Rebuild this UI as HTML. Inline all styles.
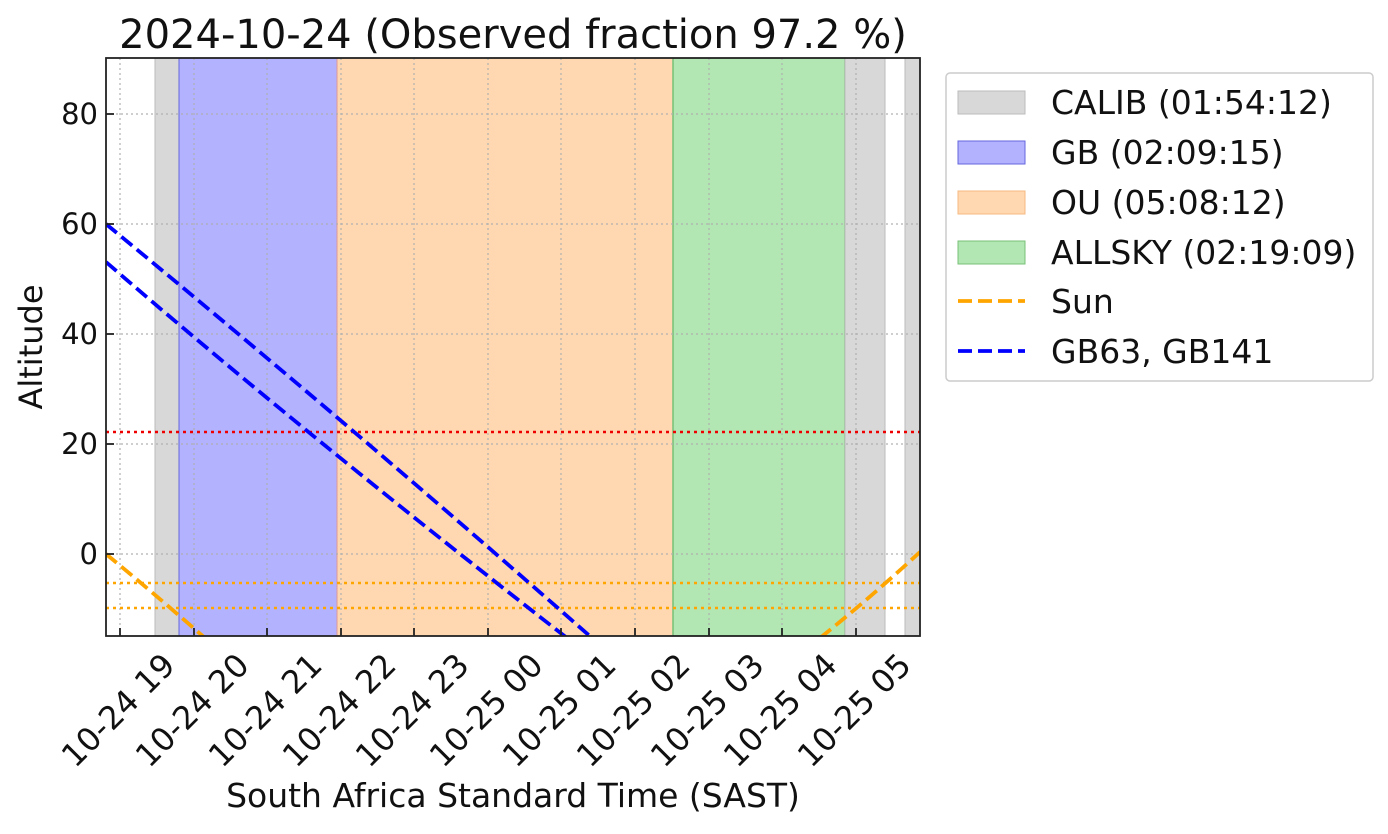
<!DOCTYPE html>
<html><head><style>body{margin:0;background:#fff}</style></head><body>
<svg width="1388" height="829" xmlns="http://www.w3.org/2000/svg" font-family="DejaVu Sans, Liberation Sans, sans-serif">
<defs><clipPath id="c"><rect x="106" y="58" width="814" height="578"/></clipPath></defs>
<g clip-path="url(#c)">
<rect x="155" y="58" width="24" height="578" fill="#d8d8d8" stroke="#bbb" stroke-width="1"/>
<rect x="179" y="58" width="158" height="578" fill="#b2b2ff" stroke="#6666dd" stroke-width="1"/>
<rect x="337" y="58" width="336" height="578" fill="#ffd8b2" stroke="#dd9999" stroke-width="1"/>
<rect x="673" y="58" width="172" height="578" fill="#b2e6b2" stroke="#77c077" stroke-width="1.5"/>
<rect x="845" y="58" width="40" height="578" fill="#d8d8d8" stroke="#bbb" stroke-width="1"/>
<rect x="905" y="58" width="20" height="578" fill="#d8d8d8" stroke="#bbb" stroke-width="1"/>
<g stroke="#b0b0b0" stroke-width="1.2" stroke-dasharray="2,3">
<line x1="120" y1="58" x2="120" y2="636"/><line x1="194" y1="58" x2="194" y2="636"/><line x1="267" y1="58" x2="267" y2="636"/><line x1="341" y1="58" x2="341" y2="636"/><line x1="414" y1="58" x2="414" y2="636"/><line x1="488" y1="58" x2="488" y2="636"/><line x1="561" y1="58" x2="561" y2="636"/><line x1="635" y1="58" x2="635" y2="636"/><line x1="709" y1="58" x2="709" y2="636"/><line x1="782" y1="58" x2="782" y2="636"/><line x1="856" y1="58" x2="856" y2="636"/>
<line x1="106" y1="114" x2="920" y2="114"/><line x1="106" y1="224" x2="920" y2="224"/><line x1="106" y1="334" x2="920" y2="334"/><line x1="106" y1="444" x2="920" y2="444"/><line x1="106" y1="554" x2="920" y2="554"/>
</g>
<g stroke-width="2.5" stroke-dasharray="3,4" fill="none">
<line x1="106" y1="432" x2="920" y2="432" stroke="#e00"/>
<line x1="106" y1="583" x2="920" y2="583" stroke="orange"/>
<line x1="106" y1="608" x2="920" y2="608" stroke="orange"/>
</g>
<g stroke-width="3.8" stroke-dasharray="14,6" fill="none">
<path d="M106,554 Q150,590 205,638" stroke="orange"/>
<path d="M820,638 Q870,598 920,552" stroke="orange"/>
<path d="M106,224 Q350,425 592,638" stroke="blue"/>
<path d="M106,262 Q300,430 567,638" stroke="blue"/>
</g>
</g>
<rect x="106" y="58" width="814" height="578" fill="none" stroke="#222" stroke-width="1.8"/>
<g stroke="#222" stroke-width="1.8">
<line x1="120" y1="636" x2="120" y2="628"/><line x1="194" y1="636" x2="194" y2="628"/><line x1="267" y1="636" x2="267" y2="628"/><line x1="341" y1="636" x2="341" y2="628"/><line x1="414" y1="636" x2="414" y2="628"/><line x1="488" y1="636" x2="488" y2="628"/><line x1="561" y1="636" x2="561" y2="628"/><line x1="635" y1="636" x2="635" y2="628"/><line x1="709" y1="636" x2="709" y2="628"/><line x1="782" y1="636" x2="782" y2="628"/><line x1="856" y1="636" x2="856" y2="628"/>
<line x1="106" y1="114" x2="114" y2="114"/><line x1="106" y1="224" x2="114" y2="224"/><line x1="106" y1="334" x2="114" y2="334"/><line x1="106" y1="444" x2="114" y2="444"/><line x1="106" y1="554" x2="114" y2="554"/>
</g>
<g font-size="29" text-anchor="end" fill="#111">
<text x="98" y="124">80</text><text x="98" y="234">60</text><text x="98" y="344">40</text><text x="98" y="454">20</text><text x="98" y="564">0</text>
</g>
<g font-size="32" text-anchor="middle" fill="#111">
<text transform="translate(126,718) rotate(-45)">10-24 19</text>
<text transform="translate(200,718) rotate(-45)">10-24 20</text>
<text transform="translate(273,718) rotate(-45)">10-24 21</text>
<text transform="translate(347,718) rotate(-45)">10-24 22</text>
<text transform="translate(420,718) rotate(-45)">10-24 23</text>
<text transform="translate(494,718) rotate(-45)">10-25 00</text>
<text transform="translate(567,718) rotate(-45)">10-25 01</text>
<text transform="translate(641,718) rotate(-45)">10-25 02</text>
<text transform="translate(715,718) rotate(-45)">10-25 03</text>
<text transform="translate(788,718) rotate(-45)">10-25 04</text>
<text transform="translate(862,718) rotate(-45)">10-25 05</text>
</g>
<text x="513" y="807" font-size="33" text-anchor="middle" fill="#111">South Africa Standard Time (SAST)</text>
<text transform="translate(42,347) rotate(-90)" font-size="32" text-anchor="middle" fill="#111">Altitude</text>
<text x="513" y="48" font-size="40" text-anchor="middle" fill="#111">2024-10-24 (Observed fraction 97.2 %)</text>
<rect x="946" y="73" width="427" height="308" rx="4" fill="#fff" stroke="#ccc" stroke-width="1.5"/>
<rect x="958" y="91" width="67" height="23" fill="#d8d8d8" stroke="#bbb"/>
<rect x="958" y="141" width="67" height="23" fill="#b2b2ff" stroke="#6666dd"/>
<rect x="958" y="191" width="67" height="23" fill="#ffd8b2" stroke="#f5b880"/>
<rect x="958" y="241" width="67" height="23" fill="#b2e6b2" stroke="#77c077"/>
<line x1="958" y1="301" x2="1025" y2="301" stroke="orange" stroke-width="3.8" stroke-dasharray="14,6"/>
<line x1="958" y1="351" x2="1025" y2="351" stroke="blue" stroke-width="3.8" stroke-dasharray="14,6"/>
<g font-size="33" fill="#111">
<text x="1051" y="114">CALIB (01:54:12)</text>
<text x="1051" y="164">GB (02:09:15)</text>
<text x="1051" y="214">OU (05:08:12)</text>
<text x="1051" y="264">ALLSKY (02:19:09)</text>
<text x="1051" y="313">Sun</text>
<text x="1051" y="363">GB63, GB141</text>
</g>
</svg>
</body></html>
